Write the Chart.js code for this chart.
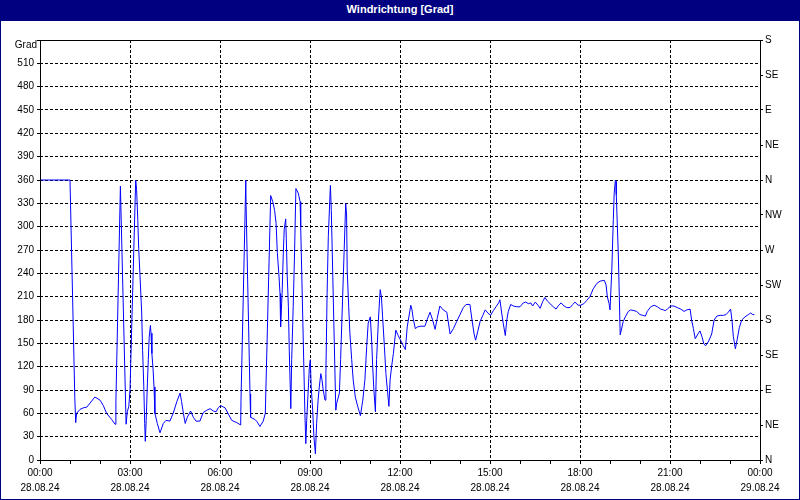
<!DOCTYPE html>
<html>
<head>
<meta charset="utf-8">
<title>Windrichtung [Grad]</title>
<script src="https://cdn.jsdelivr.net/npm/chart.js@4.4.1/dist/chart.umd.min.js"></script>
<style>
  html, body { margin: 0; padding: 0; background: #fff; }
  #frame { position: relative; width: 800px; height: 500px; overflow: hidden; background: #fff; }
  #titlebar {
    position: absolute; left: 0; top: 0; width: 800px; height: 21px;
    background: #000080; color: #fff; text-align: center;
    font: bold 11px "Liberation Sans", Arial, sans-serif; line-height: 18px; z-index: 2;
  }
  #border {
    position: absolute; left: 0; top: 0; width: 800px; height: 500px;
    box-sizing: border-box; border: 1px solid #000080; pointer-events: none; z-index: 3;
  }
  canvas { position: absolute; left: 0; top: 0; }
</style>
</head>
<body>
<div id="frame">
  <canvas id="windChart" width="800" height="500"></canvas>
  <div id="titlebar">Windrichtung [Grad]</div>
  <div id="border"></div>
</div>
<script>
    // hours since 00:00 on 28.08.24
    const times = [
      0, 1.00, 1.16, 1.19, 1.22, 1.33, 1.44, 1.56, 1.83, 2.00, 2.11, 2.22, 2.39, 2.50, 2.53, 2.68, 2.87, 2.91, 2.96,
      3.00, 3.19, 3.22, 3.26, 3.29, 3.33, 3.39, 3.42, 3.46, 3.49, 3.51, 3.54, 3.58, 3.61, 3.64, 3.68, 3.70, 3.73, 3.77,
      3.80, 3.83, 3.91, 4.00, 4.11, 4.20, 4.33, 4.44, 4.56, 4.67, 4.72, 4.78, 4.84, 4.91, 5.02, 5.11, 5.20, 5.33,
      5.44, 5.56, 5.67, 5.78, 5.87, 5.94, 6.02, 6.17, 6.28, 6.39, 6.56, 6.69, 6.70, 6.86, 6.87, 7.00, 7.02, 7.17,
      7.24, 7.33, 7.44, 7.51, 7.69, 7.76, 7.82, 7.87, 7.91, 7.96, 8.00, 8.02, 8.07, 8.11, 8.14, 8.19, 8.21, 8.24,
      8.28, 8.31, 8.36, 8.39, 8.44, 8.48, 8.53, 8.61, 8.67, 8.69, 8.76, 8.83, 8.86, 8.89, 8.98, 9.01, 9.04, 9.09,
      9.13, 9.18, 9.22, 9.27, 9.31, 9.36, 9.40, 9.44, 9.50, 9.53, 9.57, 9.61, 9.68, 9.71, 9.86, 9.89, 9.98, 10.02,
      10.19, 10.22, 10.24, 10.29, 10.33, 10.39, 10.44, 10.51, 10.59, 10.68, 10.76, 10.83, 10.89, 10.94, 11.01,
      11.06, 11.09, 11.13, 11.18, 11.22, 11.28, 11.34, 11.38, 11.42, 11.48, 11.53, 11.59, 11.63, 11.67, 11.72,
      11.78, 11.86, 11.94, 12.02, 12.11, 12.18, 12.24, 12.36, 12.40, 12.44, 12.51, 12.58, 12.67, 12.83, 12.91,
      13.00, 13.08, 13.17, 13.24, 13.33, 13.44, 13.56, 13.67, 13.78, 13.89, 14.00, 14.11, 14.20, 14.33, 14.40,
      14.47, 14.52, 14.59, 14.67, 14.76, 14.84, 14.93, 15.02, 15.11, 15.20, 15.29, 15.33, 15.39, 15.44, 15.51,
      15.56, 15.61, 15.69, 15.78, 15.89, 16.00, 16.11, 16.19, 16.28, 16.36, 16.42, 16.51, 16.60, 16.67, 16.76,
      16.83, 16.92, 17.00, 17.11, 17.20, 17.29, 17.37, 17.47, 17.56, 17.67, 17.76, 17.83, 17.94, 18.02, 18.13,
      18.22, 18.33, 18.44, 18.56, 18.67, 18.81, 18.87, 18.91, 18.97, 19.00, 19.06, 19.11, 19.14, 19.18, 19.20,
      19.21, 19.28, 19.31, 19.34, 19.40, 19.44, 19.51, 19.61, 19.69, 19.80, 19.89, 20.00, 20.09, 20.18, 20.24,
      20.36, 20.47, 20.58, 20.69, 20.78, 20.84, 20.91, 21.02, 21.13, 21.24, 21.36, 21.47, 21.56, 21.67, 21.72,
      21.78, 21.84, 21.93, 22.00, 22.07, 22.13, 22.19, 22.29, 22.39, 22.47, 22.56, 22.67, 22.78, 22.87, 22.94,
      23.02, 23.07, 23.11, 23.18, 23.24, 23.31, 23.39, 23.50, 23.61, 23.69, 23.76, 23.81
    ];

    // wind direction in degrees
    const directions = [
      360, 360, 80, 48, 60, 65, 67, 68, 81, 77, 70, 60, 52, 46, 75, 352, 46, 62, 69,
      90, 360, 348, 308, 272, 240, 189, 141, 94, 47, 24, 51, 99, 129, 158, 173, 163, 137, 116,
      94, 60, 47, 35, 47, 51, 50, 60, 75, 86, 75, 60, 47, 55, 63, 55, 50, 50,
      61, 64, 66, 63, 62, 67, 70, 67, 59, 51, 48, 45, 77, 360, 327, 85, 55, 52,
      49, 43, 50, 60, 340, 332, 321, 304, 267, 240, 214, 171, 214, 266, 296, 310, 285, 238,
      197, 139, 66, 129, 197, 257, 349, 343, 332, 300, 180, 60, 21, 51, 120, 129, 94, 64,
      30, 8, 47, 77, 94, 111, 103, 90, 77, 111, 214, 287, 353, 321, 64, 73, 86, 129,
      330, 315, 244, 197, 163, 129, 103, 81, 69, 57, 77, 103, 146, 176, 184,
      150, 120, 90, 62, 129, 180, 219, 210, 184, 146, 111, 86, 69, 103, 120,
      137, 167, 160, 154, 147, 142, 171, 199, 193, 182, 169, 171, 172, 172, 181,
      190, 181, 168, 182, 198, 193, 190, 162, 169, 178, 187, 196, 200, 200, 180,
      162, 154, 165, 178, 186, 193, 189, 186, 192, 197, 202, 206, 189, 176, 160,
      180, 191, 200, 198, 197, 197, 202, 203, 201, 202, 198, 203, 199, 195, 204,
      209, 204, 201, 197, 194, 199, 202, 198, 196, 196, 200, 203, 199, 199, 201,
      205, 210, 220, 227, 230, 231, 225, 210, 201, 193, 244, 309, 343, 360, 358,
      341, 261, 210, 161, 171, 178, 184, 191, 193, 192, 191, 187, 186, 185, 191,
      197, 199, 197, 194, 193, 192, 194, 198, 198, 196, 194, 191, 193, 194, 180,
      169, 156, 162, 166, 158, 149, 147, 153, 162, 180, 185, 186, 186, 187, 190,
      194, 178, 159, 143, 155, 170, 180, 184, 187, 189, 187, 187
    ];

    const timeLabels = ['00:00', '03:00', '06:00', '09:00', '12:00', '15:00', '18:00', '21:00', '00:00'];
    const dateLabels = ['28.08.24', '28.08.24', '28.08.24', '28.08.24', '28.08.24', '28.08.24', '28.08.24', '28.08.24', '29.08.24'];
    const compassLabels = ['N', 'NE', 'E', 'SE', 'S', 'SW', 'W', 'NW', 'N', 'NE', 'E', 'SE', 'S'];
    const axisUnit = 'Grad';

    const labelFont = { family: '"Liberation Sans", Arial, sans-serif', size: 10 };

    // plot frame + unit label
    const frameAndUnit = {
      id: 'frameAndUnit',
      afterDraw(chart) {
        const { ctx, chartArea } = chart;
        ctx.save();
        ctx.strokeStyle = '#000';
        ctx.lineWidth = 1;
        ctx.strokeRect(chartArea.left + 0.5, chartArea.top + 0.5,
          chartArea.right - chartArea.left, chartArea.bottom - chartArea.top);
        ctx.font = '10px "Liberation Sans", Arial, sans-serif';
        ctx.fillStyle = '#000';
        ctx.textAlign = 'right';
        ctx.textBaseline = 'middle';
        ctx.fillText(axisUnit, chartArea.left - 3, chartArea.top + 5);
        ctx.restore();
      }
    };

    const points = times.map((t, i) => ({ x: t, y: directions[i] }));

    const ctx = document.getElementById('windChart').getContext('2d');
    const chart = new Chart(ctx, {
      type: 'line',
      data: {
        datasets: [{
          label: 'Windrichtung',
          data: points,
          borderColor: '#0000ff',
          borderWidth: 1,
          pointRadius: 0,
          tension: 0,
          fill: false,
          yAxisID: 'y'
        }]
      },
      options: {
        responsive: false,
        animation: false,
        devicePixelRatio: 1,
        layout: { padding: { top: 40, left: 0, right: 0, bottom: 0 } },
        plugins: {
          legend: { display: false },
          title: { display: false },
          tooltip: { enabled: false }
        },
        scales: {
          x: {
            type: 'linear',
            min: 0,
            max: 24,
            afterFit: s => { s.height = 40; },
            ticks: {
              stepSize: 1,
              autoSkip: false,
              maxRotation: 0,
              padding: 2,
              color: '#000',
              font: { ...labelFont, lineHeight: 1.5 },
              callback: v => (v % 3 === 0) ? [timeLabels[v / 3], dateLabels[v / 3]] : ''
            },
            grid: {
              color: c => (c.tick && c.tick.value % 3 === 0 && c.tick.value > 0 && c.tick.value < 24) ? '#000' : 'rgba(0,0,0,0)',
              tickColor: '#000',
              tickLength: 4,
              lineWidth: 1
            },
            border: { display: false, dash: [3, 2] }
          },
          y: {
            type: 'linear',
            position: 'left',
            min: 0,
            max: 540,
            afterFit: s => { s.width = 40; },
            ticks: {
              stepSize: 30,
              padding: 3,
              color: '#000',
              font: labelFont,
              callback: v => v === 540 ? '' : v
            },
            grid: {
              color: c => (c.tick && c.tick.value > 0 && c.tick.value < 540) ? '#000' : 'rgba(0,0,0,0)',
              tickColor: '#000',
              tickLength: 3,
              lineWidth: 1
            },
            border: { display: false, dash: [3, 2] }
          },
          yRight: {
            type: 'linear',
            position: 'right',
            min: 0,
            max: 540,
            afterFit: s => { s.width = 40; },
            ticks: {
              stepSize: 45,
              padding: 2,
              color: '#000',
              font: labelFont,
              callback: (v, i) => compassLabels[i]
            },
            grid: {
              drawOnChartArea: false,
              color: '#000',
              tickColor: '#000',
              tickLength: 3
            },
            border: { display: false }
          }
        }
      },
      plugins: [frameAndUnit]
    });
</script>
</body>
</html>
